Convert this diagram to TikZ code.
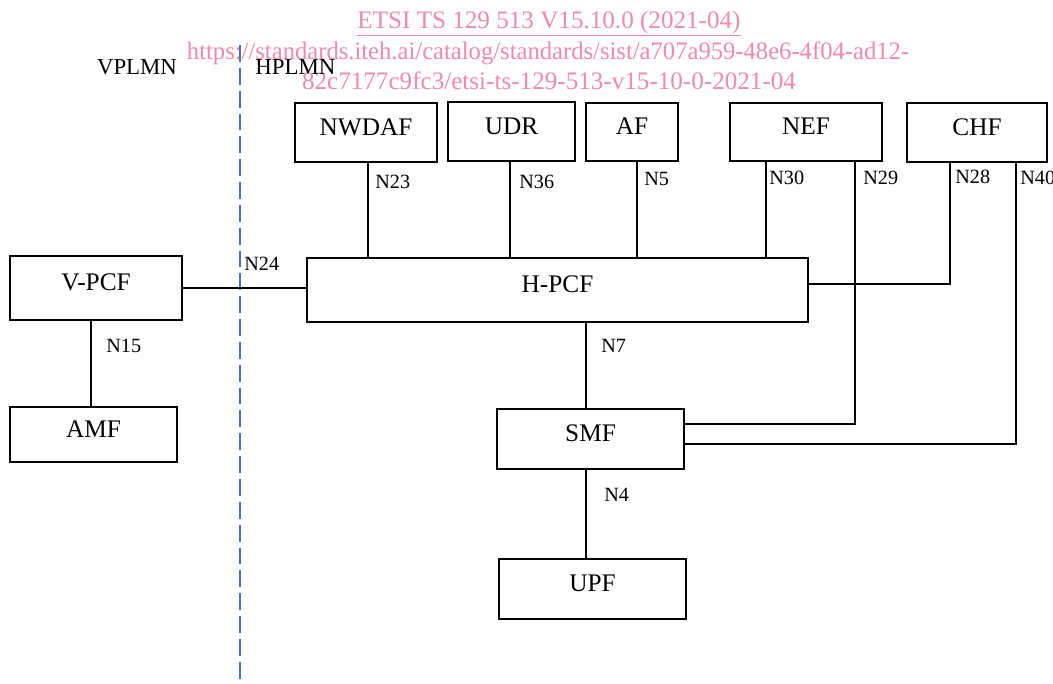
\documentclass[tikz,border=0pt]{standalone}
\usepackage{fontspec}
\setmainfont{Liberation Serif}
\usepackage{xcolor}
\usetikzlibrary{positioning}

\definecolor{wmpink}{RGB}{240,138,168}
\definecolor{planblue}{RGB}{68,114,196}

\begin{document}
\begin{tikzpicture}[x=0.02cm, y=-0.02cm,
  nfbox/.style 2 args={draw, line width=0.8pt, inner sep=0pt,
    minimum width=#1*0.02cm, minimum height=#2*0.02cm,
    text height=10pt, text depth=7pt, font=\fontsize{14.4}{17}\selectfont},
  link/.style={line width=0.7pt},
  reflabel/.style={anchor=base west, inner sep=0pt, font=\fontsize{11.5}{13}\selectfont},
  plmn/.style={inner sep=0pt, font=\fontsize{13}{15}\selectfont},
  wmark/.style={wmpink, inner sep=0pt, anchor=base, font=\fontsize{14.3}{17}\selectfont}]
\useasboundingbox (0,0) rectangle (1053,683);

% Watermark
\node[wmark] (wm1) at (549,28) {\underline{ETSI TS 129 513 V15.10.0 (2021-04)}};
\node[wmark, xscale=0.98] (wm2) at (548,59) {https://standards.iteh.ai/catalog/standards/sist/a707a959-48e6-4f04-ad12-};
\node[wmark] (wm3) at (549,89) {82c7177c9fc3/etsi-ts-129-513-v15-10-0-2021-04};

% Border between networks
\draw[planblue, line width=1.1pt, dash pattern=on 9.6pt off 3.4pt] (240,45) -- (240,683);
\node[plmn, anchor=base] (vplmn) at (137,74) {VPLMN};
\node[plmn, anchor=base west] (hplmn) at (255,74) {HPLMN};

% Network functions
\node[nfbox={172}{64}] (vpcf) at (96,288) {V-PCF};
\node[nfbox={167}{55}] (amf) at (93.5,434.5) {AMF};
\node[nfbox={142}{59}] (nwdaf) at (366,132.5) {NWDAF};
\node[nfbox={127}{59}] (udr) at (511.5,131.5) {UDR};
\node[nfbox={92}{58}] (af) at (632,132) {AF};
\node[nfbox={152}{58}] (nef) at (806,132) {NEF};
\node[nfbox={140}{59}] (chf) at (977,132.5) {CHF};
\node[nfbox={501}{64}] (hpcf) at (557.5,290) {H-PCF};
\node[nfbox={187}{60}] (smf) at (590.5,439) {SMF};
\node[nfbox={187}{60}] (upf) at (592.5,589) {UPF};

% Reference points
\draw[link] (vpcf.east) -- (vpcf.east -| hpcf.west);
\draw[link] ([xshift=-0.05cm]amf.north) -- ([xshift=-0.05cm]amf.north |- vpcf.south);
\draw[link] ([xshift=0.04cm]nwdaf.south) -- ([xshift=0.04cm]nwdaf.south |- hpcf.north);
\draw[link] ([xshift=-0.03cm]udr.south) -- ([xshift=-0.03cm]udr.south |- hpcf.north);
\draw[link] ([xshift=0.1cm]af.south) -- ([xshift=0.1cm]af.south |- hpcf.north);
\draw[link] ([xshift=-0.8cm]nef.south) -- ([xshift=-0.8cm]nef.south |- hpcf.north);
\draw[link] ([xshift=0.98cm]nef.south) |- ([yshift=0.3cm]smf.east);
\draw[link] ([xshift=-0.54cm]chf.south) |- ([yshift=0.12cm]hpcf.east);
\draw[link] ([xshift=0.78cm]chf.south) |- ([yshift=-0.1cm]smf.east);
\draw[link] ([xshift=-0.09cm]smf.north) -- ([xshift=-0.09cm]smf.north |- hpcf.south);
\draw[link] ([xshift=-0.09cm]smf.south) -- ([xshift=-0.09cm]smf.south |- upf.north);

\node[reflabel] (n24) at (244,270) {N24};
\node[reflabel] (n15) at (106,352) {N15};
\node[reflabel] (n23) at (375,188) {N23};
\node[reflabel] (n36) at (519,188) {N36};
\node[reflabel] (n5) at (644,185) {N5};
\node[reflabel] (n30) at (769,184) {N30};
\node[reflabel] (n29) at (863,184) {N29};
\node[reflabel] (n28) at (955,183) {N28};
\node[reflabel] (n40) at (1020,184) {N40};
\node[reflabel] (n7) at (601,352) {N7};
\node[reflabel] (n4) at (604,501) {N4};
\end{tikzpicture}
\end{document}
